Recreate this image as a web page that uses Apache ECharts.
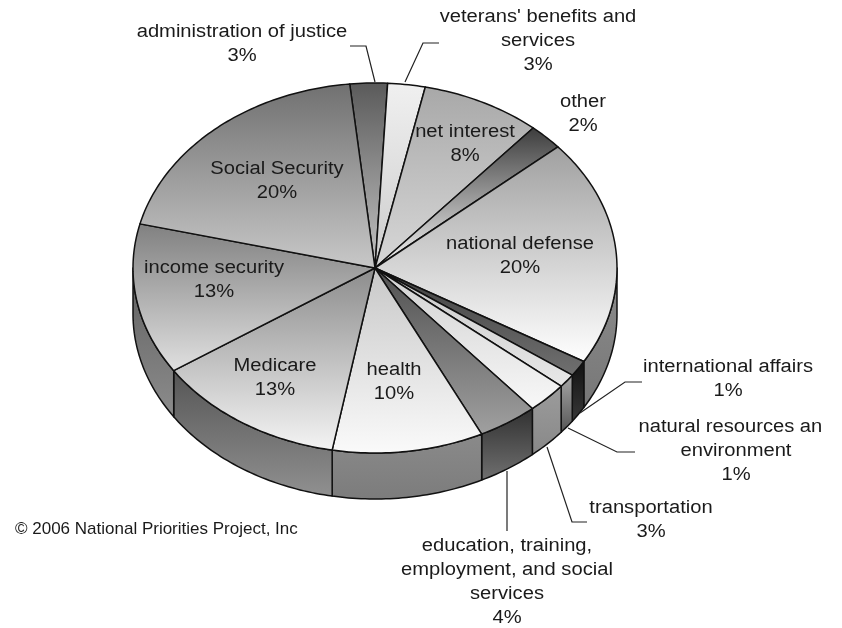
<!DOCTYPE html>
<html>
<head>
<meta charset="utf-8">
<style>html,body{margin:0;padding:0;background:#fff}#chart{width:842px;height:628px}</style>
<script src="https://cdn.jsdelivr.net/npm/echarts@6/dist/echarts.min.js"></script>
</head>
<body>
<div id="chart"></div>
<script>
// Federal spending by function, FY2006 (percent of total), clockwise from the top
const categories = [
  'administration of justice', "veterans' benefits and services", 'net interest', 'other',
  'national defense', 'international affairs', 'natural resources and environment',
  'transportation', 'education, training, employment, and social services',
  'health', 'Medicare', 'income security', 'Social Security'
];
const shares = [2.5, 2.5, 8.0, 2.3, 19.8, 1.4, 1.2, 2.7, 4.0, 10.1, 12.8, 13.2, 19.5];
const copyright = '\u00a9 2006 National Priorities Project, Inc';

// Tilted disc geometry
const disc = { cx: 375, cy: 268, rx: 242, ry: 185, depth: 46, startDeg: -6 };

// Top-face and wall shading per slice: [far colour, near colour]
const topShade = [
  ['#5a5a5a', '#c4c4c4'], ['#f0f0f0', '#cccccc'], ['#a8a8a8', '#d8d8d8'], ['#3c3c3c', '#f8f8f8'],
  ['#a0a0a0', '#ffffff'], ['#404040', '#707070'], ['#c8c8c8', '#e8e8e8'], ['#d0d0d0', '#f8f8f8'],
  ['#505050', '#a0a0a0'], ['#c8c8c8', '#fafafa'], ['#8c8c8c', '#f4f4f4'], ['#808080', '#e0e0e0'],
  ['#707070', '#c8c8c8']
];
const wallShade = [
  ['#888', '#888'], ['#888', '#888'], ['#888', '#888'], ['#888', '#888'],
  ['#8c8c8c', '#777777'], ['#111111', '#383838'], ['#a8a8a8', '#555555'], ['#9c9c9c', '#888888'],
  ['#303030', '#707070'], ['#8a8a8a', '#7c7c7c'], ['#555555', '#909090'], ['#606060', '#8c8c8c'],
  ['#888', '#888']
];

// Label layout: wrapped name lines, centre x, first-line centre y
const labelLayout = [
  { lines: ['administration of justice'], x: 242, y: 32 },
  { lines: ["veterans' benefits and", 'services'], x: 538, y: 17 },
  { lines: ['net interest'], x: 465, y: 132 },
  { lines: ['other'], x: 583, y: 102 },
  { lines: ['national defense'], x: 520, y: 244 },
  { lines: ['international affairs'], x: 728, y: 367 },
  { lines: ['natural resources and', 'environment'], x: 736, y: 427, clipRight: 823 },
  { lines: ['transportation'], x: 651, y: 508 },
  { lines: ['education, training,', 'employment, and social', 'services'], x: 507, y: 546 },
  { lines: ['health'], x: 394, y: 370 },
  { lines: ['Medicare'], x: 275, y: 366 },
  { lines: ['income security'], x: 214, y: 268 },
  { lines: ['Social Security'], x: 277, y: 169 }
];
const labelStretch = 1.12;

// Leader lines for the labels outside the disc
const leaders = [
  [[350, 46], [366, 46], [375, 82]],
  [[439, 43], [423, 43], [405, 82]],
  [[642, 382], [625, 382], [580, 413]],
  [[635, 452], [617, 452], [568, 428]],
  [[587, 522], [572, 522], [547, 447]],
  [[507, 471], [507, 531]]
];

const total = shares.reduce((a, b) => a + b, 0);
const sliceAngles = [];
shares.reduce((acc, v) => {
  const next = acc + v / total * 360;
  sliceAngles.push([acc, next]);
  return next;
}, disc.startDeg);

function rimPoint(deg, drop) {
  const t = deg * Math.PI / 180;
  return [disc.cx + disc.rx * Math.sin(t), disc.cy - disc.ry * Math.cos(t) + (drop || 0)];
}
function arc(a, b, drop) {
  const pts = [];
  const n = Math.max(2, Math.ceil(Math.abs(b - a)));
  for (let i = 0; i <= n; i++) pts.push(rimPoint(a + (b - a) * i / n, drop));
  return pts;
}
function vGrad(pair) {
  return { type: 'linear', x: 0, y: 0, x2: 0, y2: 1,
    colorStops: [{ offset: 0, color: pair[0] }, { offset: 1, color: pair[1] }] };
}
const edge = { stroke: '#111', lineWidth: 1.5, lineJoin: 'round' };

function renderWall(params) {
  const i = params.dataIndex;
  const a = Math.max(sliceAngles[i][0], 90), b = Math.min(sliceAngles[i][1], 270);
  if (b <= a) return { type: 'group', children: [] };
  const pts = arc(a, b, 0).concat(arc(b, a, disc.depth));
  return { type: 'polygon', shape: { points: pts },
    style: Object.assign({ fill: vGrad(wallShade[i]) }, edge) };
}
function renderTop(params) {
  const i = params.dataIndex;
  const pts = [[disc.cx, disc.cy]].concat(arc(sliceAngles[i][0], sliceAngles[i][1], 0));
  return { type: 'polygon', shape: { points: pts },
    style: Object.assign({ fill: vGrad(topShade[i]) }, edge) };
}
function renderLabel(params, api) {
  const i = params.dataIndex;
  const l = labelLayout[i];
  const text = l.lines.concat(Math.round(api.value(0)) + '%').join('\n');
  const el = { type: 'text', x: l.x, y: l.y - 12, scaleX: labelStretch,
    style: { text, x: 0, y: 0, align: 'center', verticalAlign: 'top', lineHeight: 24,
      fill: '#1a1a1a', font: '18px "Liberation Sans", Arial, sans-serif' } };
  if (l.clipRight) {
    el.clipPath = { type: 'rect',
      shape: { x: -150, y: -10, width: 150 + (l.clipRight - l.x) / labelStretch, height: 110 } };
  }
  return el;
}
function renderLeader(params) {
  return { type: 'polyline', shape: { points: leaders[params.dataIndex] },
    style: { fill: 'none', stroke: '#222', lineWidth: 1.2 } };
}

const chart = echarts.init(document.getElementById('chart'), null, { renderer: 'canvas' });
chart.setOption({
  animation: false,
  backgroundColor: '#fff',
  graphic: [{ type: 'text', left: 15, top: 521,
    style: { text: copyright, fill: '#1a1a1a', font: '17px "Liberation Sans", Arial, sans-serif' } }],
  series: [
    { type: 'custom', coordinateSystem: 'none', data: shares, renderItem: renderWall, z: 1, silent: true },
    { type: 'custom', coordinateSystem: 'none', data: shares, renderItem: renderTop, z: 2, silent: true },
    { type: 'custom', coordinateSystem: 'none', data: leaders.map((_, i) => i), renderItem: renderLeader, z: 3, silent: true },
    { type: 'custom', coordinateSystem: 'none', data: shares, renderItem: renderLabel, z: 4, silent: true }
  ]
});
</script>
</body>
</html>
